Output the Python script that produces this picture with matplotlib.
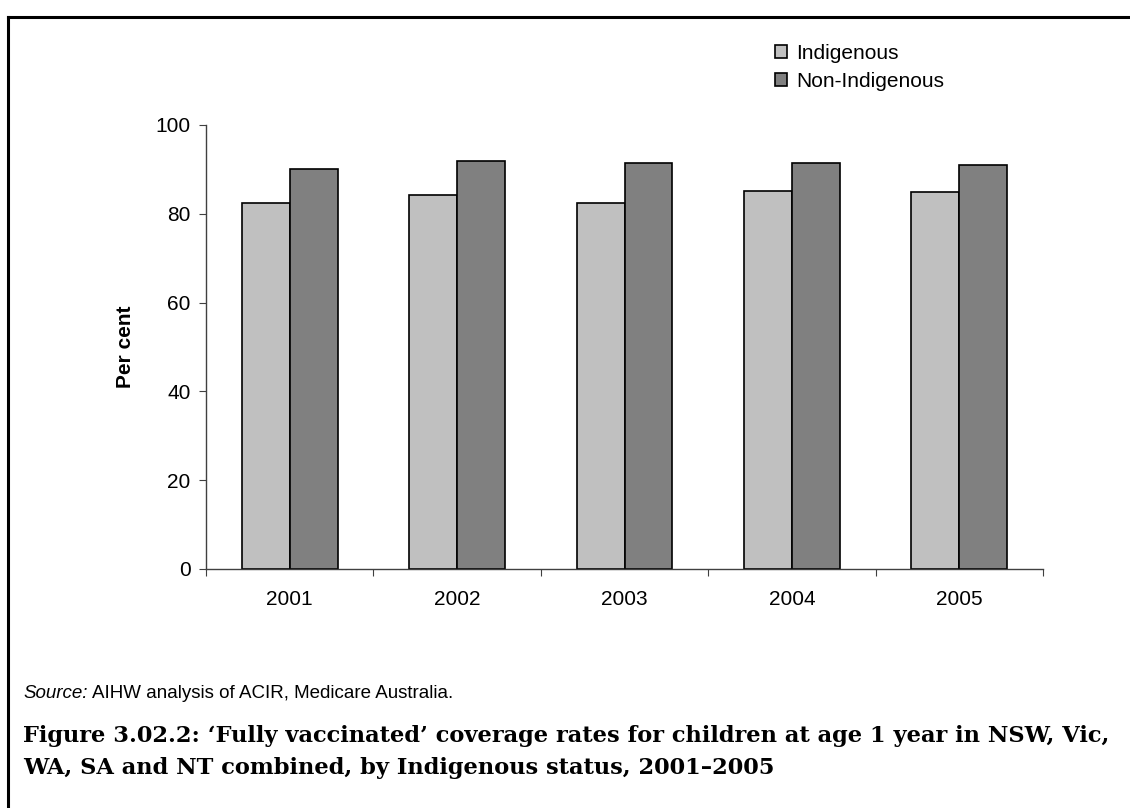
import numpy as np
import matplotlib.pyplot as plt
from matplotlib.lines import Line2D

years = ['2001', '2002', '2003', '2004', '2005']
indigenous = [82.5, 84.2, 82.5, 85.2, 84.8]
non_indigenous = [90.1, 91.9, 91.5, 91.5, 91.1]

plt.rcParams['font.family'] = ['Liberation Sans', 'DejaVu Sans']

W, H = 1130, 808
fig = plt.figure(figsize=(W / 100, H / 100), dpi=100)

# Axes placed from the pixel box of the reference
ax = fig.add_axes([206 / W, (H - 569) / H, 837 / W, 444 / H])

x = np.arange(len(years))
width = 0.2857
ax.bar(x - width / 2, indigenous, width, color='#c0c0c0', edgecolor='black',
       linewidth=1.2, label='Indigenous')
ax.bar(x + width / 2, non_indigenous, width, color='#808080', edgecolor='black',
       linewidth=1.2, label='Non-Indigenous')

ax.set_xlim(-0.5, len(years) - 0.5)
ax.set_ylim(0, 100)
ax.set_yticks([0, 20, 40, 60, 80, 100])

# Ticks at the category boundaries, labels at the centres
ax.set_xticks(np.arange(len(years) + 1) - 0.5)
ax.set_xticklabels([])
ax.set_xticks(x, minor=True)
ax.set_xticklabels(years, minor=True)
ax.tick_params(axis='x', which='major', length=5, direction='out', color='#404040')
ax.tick_params(axis='x', which='minor', length=0, pad=15, labelsize=15)
ax.tick_params(axis='y', length=5, direction='out', pad=6, labelsize=15, color='#404040')

for side in ['top', 'right']:
    ax.spines[side].set_visible(False)
for side in ['left', 'bottom']:
    ax.spines[side].set_color('#404040')
    ax.spines[side].set_linewidth(1.0)

ax.set_ylabel('Per cent', fontsize=15, fontweight='bold')
ax.yaxis.set_label_coords((135 - 206) / 837, 0.5)

leg = fig.legend(loc='upper left', bbox_to_anchor=(756 / W, 1 - 25 / H),
                 frameon=False, fontsize=15, handlelength=0.6, handleheight=0.6,
                 handletextpad=0.45, labelspacing=0.45)

# Source note and caption
src = fig.text(23 / W, 1 - 694 / H, 'Source:', fontsize=13.5, style='italic', va='center')
fig.canvas.draw()
bb = src.get_window_extent()
fig.text((bb.x1 + 4) / W, 1 - 694 / H, 'AIHW analysis of ACIR, Medicare Australia.',
         fontsize=13.5, va='center')
cap_font = ['DejaVu Serif']
fig.text(23 / W, 1 - 736 / H,
         'Figure 3.02.2: \u2018Fully vaccinated\u2019 coverage rates for children at age 1 year in NSW, Vic,',
         fontsize=16.2, fontweight='bold', family=cap_font, va='center')
fig.text(23 / W, 1 - 768 / H,
         'WA, SA and NT combined, by Indigenous status, 2001\u20132005',
         fontsize=16.2, fontweight='bold', family=cap_font, va='center')

# Page frame: left and top rules
fig.add_artist(Line2D([7.5 / W, 7.5 / W], [0, 1 - 16.5 / H], color='black', linewidth=2.2))
fig.add_artist(Line2D([7.5 / W, 1], [1 - 16.5 / H, 1 - 16.5 / H], color='black', linewidth=2.2))

fig.savefig('out.png', dpi=100)
